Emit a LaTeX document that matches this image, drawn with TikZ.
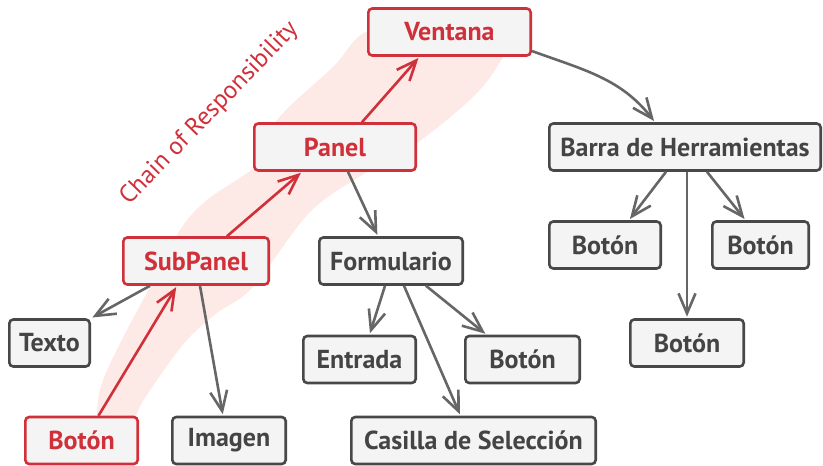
\documentclass[tikz,border=0pt]{standalone}
\usepackage{fontspec}
\setmainfont{PT Sans}
\usepackage{tikz}
\usetikzlibrary{arrows.meta}
\definecolor{chainred}{RGB}{208,48,58}
\definecolor{boxgray}{RGB}{72,72,72}
\definecolor{textgray}{RGB}{68,68,68}
\definecolor{arrowgray}{RGB}{102,102,102}
\definecolor{boxfill}{RGB}{244,244,244}
\definecolor{bandpink}{RGB}{253,233,230}

\begin{document}
\begin{tikzpicture}[
  x=1pt, y=1pt,
  elem/.style={draw=boxgray, rounded corners=4pt, fill=boxfill, line width=2.6pt, minimum height=47pt, inner sep=0pt, text=textgray, font=\fontsize{26}{30}\selectfont\bfseries},
  chain/.style={elem, draw=chainred, text=chainred},
  arr/.style={-{Straight Barb[length=20pt,width=17pt]}, line width=2.6pt, draw=arrowgray, shorten >=1.5pt},
  chainarr/.style={arr, draw=chainred},
]
\useasboundingbox (0,0) rectangle (823,-466);
\fill[bandpink] plot[smooth cycle, tension=0.55] coordinates {(100,-440) (97,-413) (103,-380) (127,-330) (150,-287) (180,-230) (207,-200) (263,-160) (277,-120) (333,-67) (370,-30) (450,-25) (505,-40) (500,-62) (473,-97) (417,-143) (367,-172) (310,-212) (253,-287) (217,-313) (187,-340) (157,-380) (137,-413) (135,-440)};
\node[font=\fontsize{25}{29}\selectfont, text=chainred, rotate=46, anchor=base] (chainlbl) at (214,-118) {Chain of Responsibility};

\node[chain, minimum width=162.4pt] (ventana)  at (449.5,-32)  {Ventana};
\node[chain, minimum width=161.4pt] (panel)    at (335,-147)   {Panel};
\node[chain, minimum width=145.4pt] (subpanel) at (196,-261)   {SubPanel};
\node[chain, minimum width=112.4pt] (boton)    at (81.5,-440.5){Botón};
\node[elem, minimum width=80.4pt]  (texto)     at (49.5,-343)  {Texto};
\node[elem, minimum width=113.4pt] (imagen)    at (229,-440.5) {Imagen};
\node[elem, minimum width=143.4pt] (formulario) at (391,-261)  {Formulario};
\node[elem, minimum width=112.4pt] (entrada)   at (359.5,-359.5) {Entrada};
\node[elem, minimum width=114.4pt] (botonform) at (522.5,-359.5) {Botón};
\node[elem, minimum width=244.4pt] (casilla)   at (473.5,-440.5) {Casilla de Selección};
\node[elem, minimum width=271.4pt] (barra)     at (685,-147)   {Barra de Herramientas};
\node[elem, minimum width=111.4pt] (botonizq)  at (605,-245)   {Botón};
\node[elem, minimum width=96.4pt]  (botonder)  at (760.5,-245) {Botón};
\node[elem, minimum width=113.4pt] (botonbajo) at (687,-343)   {Botón};

\draw[chainarr] ([xshift=17pt]boton.north) -- ([xshift=-19pt]subpanel.south);
\draw[chainarr] ([xshift=31pt]subpanel.north) -- ([xshift=-33pt]panel.south);
\draw[chainarr] ([xshift=27pt]panel.north) -- ([xshift=-30pt]ventana.south);
\draw[arr] (ventana.-13) to[out=-20,in=128] ([xshift=-30pt]barra.north);
\draw[arr] ([xshift=13pt]panel.south) -- ([xshift=-13pt]formulario.north);
\draw[arr] ([xshift=-46pt]subpanel.south) -- (texto.north east);
\draw[arr] ([xshift=4pt]subpanel.south) -- ([xshift=-6pt]imagen.north);
\draw[arr] ([xshift=-6pt]formulario.south) -- ([xshift=10pt]entrada.north);
\draw[arr] ([xshift=35pt]formulario.south) -- ([xshift=-36pt]botonform.north);
\draw[arr] ([xshift=13pt]formulario.south) -- ([xshift=-13pt]casilla.north);
\draw[arr] ([xshift=-19pt]barra.south) -- ([xshift=24pt]botonizq.north);
\draw[arr] ([xshift=22pt]barra.south) -- ([xshift=-15pt]botonder.north);
\draw[arr] (botonbajo.north |- barra.south) -- (botonbajo.north);
\end{tikzpicture}
\end{document}
